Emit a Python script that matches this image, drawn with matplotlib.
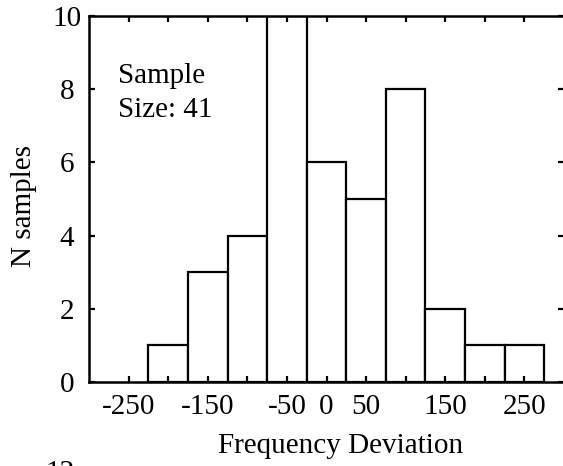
import matplotlib
matplotlib.use("Agg")
from matplotlib import pyplot as plt

# bin centres and counts
bin_centers = [-200, -150, -100, -50, 0, 50, 100, 150, 200, 250]
counts = [1, 3, 4, 10, 6, 5, 8, 2, 1, 1]
BIN_WIDTH = 50

x_ticks = [-250, -200, -150, -100, -50, 0, 50, 100, 150, 200, 250]
x_labels = ['-250', '', '-150', '', '-50', '0', '50', '', '150', '', '250']
y_ticks = [0, 2, 4, 6, 8, 10]

FS = 21
plt.rcParams['font.family'] = ['Liberation Serif', 'DejaVu Serif']

W, H = 563, 466
fig = plt.figure(figsize=(W / 100, H / 100), dpi=100)
# right spine sits just past the image edge, as in the scan
ax = fig.add_axes([89 / W, (H - 382) / H, (564 - 89) / W, (382 - 16) / H])

ax.bar(bin_centers, counts, width=BIN_WIDTH, color='white', edgecolor='black',
       linewidth=1.6, zorder=2)
ax.set_axisbelow(False)

ax.set_xlim(-300, 300)
ax.set_ylim(0, 10)
ax.set_xticks(x_ticks)
ax.set_xticklabels(x_labels)
ax.set_yticks(y_ticks)
ax.tick_params(direction='in', length=4, width=1.6, top=True, right=True,
               labelsize=FS)
ax.tick_params(axis='x', pad=8.5)
ax.tick_params(axis='y', pad=15.8)
for lab in ax.get_yticklabels():
    lab.set_ha('center')
for s in ax.spines.values():
    s.set_linewidth(1.8)
    s.set_zorder(3)

ax.set_xlabel('Frequency Deviation', fontsize=FS, va='baseline')
ax.xaxis.set_label_coords((341 - 89) / 475, (382 - 453) / 366)
ax.set_ylabel('N samples', fontsize=FS, va='center')
ax.yaxis.set_label_coords((24 - 89) / 475, (382 - 206) / 366)

ax.text(0.061, (382 - 83) / 366, 'Sample', transform=ax.transAxes,
        fontsize=FS, va='baseline', ha='left')
ax.text(0.061, (382 - 117) / 366, 'Size: 41', transform=ax.transAxes,
        fontsize=FS, va='baseline', ha='left')

# top of the next panel's "12" peeking in at the bottom edge
fig.text(60 / W, -14 / H, '12', fontsize=FS, ha='center', va='baseline')

fig.savefig('out.png', dpi=100)
